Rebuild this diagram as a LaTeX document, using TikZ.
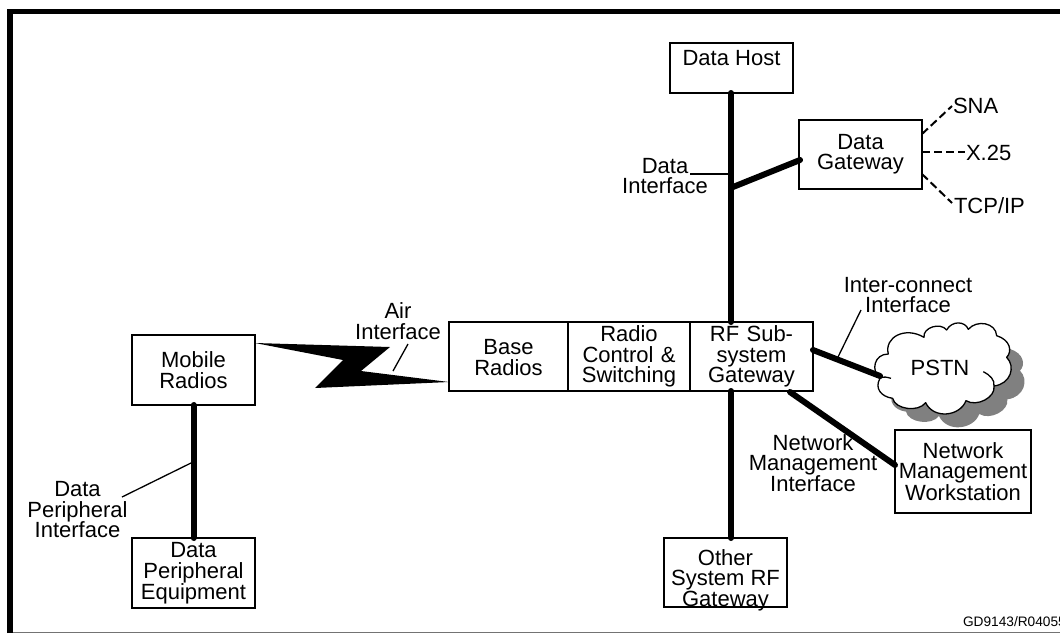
\documentclass[tikz,border=0pt]{standalone}
\usepackage{fontspec}
\setmainfont{Liberation Sans}
\newcommand{\cloudoutline}{
  (300,385) .. controls (272,362) and (282,312) .. (325,312)
  .. controls (312,262) and (375,228) .. (432,262)
  .. controls (428,232) and (482,216) .. (500,240)
  .. controls (515,212) and (555,212) .. (565,238)
  .. controls (590,208) and (648,218) .. (650,257)
  .. controls (692,270) and (697,305) .. (680,322)
  .. controls (708,350) and (692,402) .. (642,408)
  .. controls (648,442) and (590,472) .. (558,452)
  .. controls (540,500) and (460,508) .. (437,458)
  .. controls (415,488) and (345,478) .. (338,445)
  .. controls (303,440) and (283,415) .. (300,385) -- cycle}
\tikzset{
  x=1pt,y=-1pt,
  every node/.style={inner sep=0pt,outer sep=0pt},
  lbl/.style={font=\fontsize{22}{20.5}\selectfont,align=center},
  boxn/.style={draw=black,line width=1.6pt,fill=white,font=\fontsize{22}{20.5}\selectfont,align=center,anchor=north west},
  bx/.style n args={2}{boxn,minimum width=#1pt,minimum height=#2pt,text width=#1pt},
  thick link/.style={line width=6pt,line cap=round},
  leader/.style={line width=1.3pt},
  dash link/.style={line width=2pt,dash pattern=on 8pt off 4pt}
}
\begin{document}
\begin{tikzpicture}
\useasboundingbox (0,0) rectangle (1060,633);
% frame
\begin{scope}
\clip (0,0) rectangle (1060,633);
\draw[line width=5.5pt,line cap=butt] (10,633) -- (10,11.5) -- (1060,11.5);
\draw[line width=1pt,color=black!55] (13,632.5) -- (1060,632.5);
\node[anchor=base west,font=\fontsize{13.7}{15}\selectfont] (code) at (963,626.5) {GD9143/R04055};
\end{scope}
% boxes
\node[bx={123}{50}] (host) at (670,43) {};
\node[lbl] (hosttext) at (731.5,58) {Data Host};
\node[bx={123}{69}] (gw) at (799,120) {};
\node[lbl] (gwtext) at (860.5,154) {Data\\Gateway};
\node[bx={119}{69}] (base) at (449,322) {};
\node[lbl] (basetext) at (508.5,357.5) {Base\\Radios};
\node[bx={122}{69}] (rcs) at (568,322) {Radio\\Control \&\\Switching};
\node[bx={123}{69}] (rf) at (690,322) {RF Sub-\\system\\Gateway};
\node[bx={123}{70}] (mobile) at (132,335) {Mobile\\Radios};
\node[bx={123}{70}] (dpe) at (132,538) {};
\node[lbl] (dpetext) at (193.5,573.5) {Data\\Peripheral\\Equipment};
\node[bx={123}{69}] (other) at (664,538) {};
\node[lbl] (othertext) at (725.5,580) {Other\\System RF\\Gateway};
\node[bx={136}{83}] (nmw) at (895,430) {Network\\Management\\Workstation};
% cloud
\begin{scope}[shift={(780,250)},x=0.3333pt,y=-0.3333pt]
\fill[color=black!50,shift={(40,40)}] \cloudoutline;
\draw[fill=white,line width=1.3pt,line join=round] \cloudoutline;
\draw[line width=1.3pt] (300,385) .. controls (310,378) and (322,382) .. (333,385);
\draw[line width=1.3pt] (642,408) .. controls (645,390) and (630,375) .. (610,365);
\coordinate (cloudA) at (300,378);
\end{scope}
\node[lbl] (pstn) at (940,368) {PSTN};
% connectors
\coordinate (hostb) at (731,93);
\coordinate (rft) at (731,322);
\coordinate (rfb) at (731,391);
\coordinate (othert) at (731,538);
\coordinate (junction) at (733,187);
\coordinate (gwl) at (800,160);
\coordinate (rfr) at (813,350);
\coordinate (rfnm) at (790,392);
\coordinate (nml) at (895,465);
\coordinate (mb) at (193.5,405);
\coordinate (dt) at (193.5,538);
\draw[thick link] (hostb) -- (rft);
\draw[thick link] (rfb) -- (othert);
\draw[thick link] (junction) -- (gwl);
\draw[thick link] (rfr) -- (cloudA);
% labels
\node[lbl] (ldata) at (665,176) {Data\\Interface};
\node[lbl] (lair) at (398,321) {Air\\Interface};
\node[lbl] (lic) at (908,295) {Inter-connect\\Interface};
\node[lbl] (lnm) at (813,463) {Network\\Management\\Interface};
\node[lbl] (ldp) at (77.5,510) {Data\\Peripheral\\Interface};
\draw[thick link] (rfnm) -- (nml);
\draw[thick link] (mb) -- (dt);
% lightning
\fill (mobile.east |- 0,343) -- (390,347) -- (361,371) -- (449,382) -- (315,388) -- (343,360) -- cycle;
% dashed
\coordinate (gw1) at (922,134);
\coordinate (gw2) at (922,152);
\coordinate (gw3) at (922,174);
\node[lbl,anchor=base west] (sna) at (953,113) {SNA};
\node[lbl,anchor=base west] (x25) at (966,160) {X.25};
\node[lbl,anchor=base west] (tcp) at (954,213) {TCP/IP};
\draw[dash link] (gw1) -- (952,106);
\draw[dash link] (gw2) -- (965,152);
\draw[dash link] (gw3) -- (952,203);
% leaders
\coordinate (la) at (690,174);
\coordinate (lb) at (729,174);
\draw[leader] (la) -- (lb);
\coordinate (lc) at (408,344);
\coordinate (ld) at (393,371);
\draw[leader] (lc) -- (ld);
\coordinate (le) at (861,310);
\coordinate (lf) at (838,357);
\draw[leader] (le) -- (lf);
\coordinate (lg) at (122,497);
\coordinate (lh) at (191,463);
\draw[leader] (lg) -- (lh);
\end{tikzpicture}
\end{document}
